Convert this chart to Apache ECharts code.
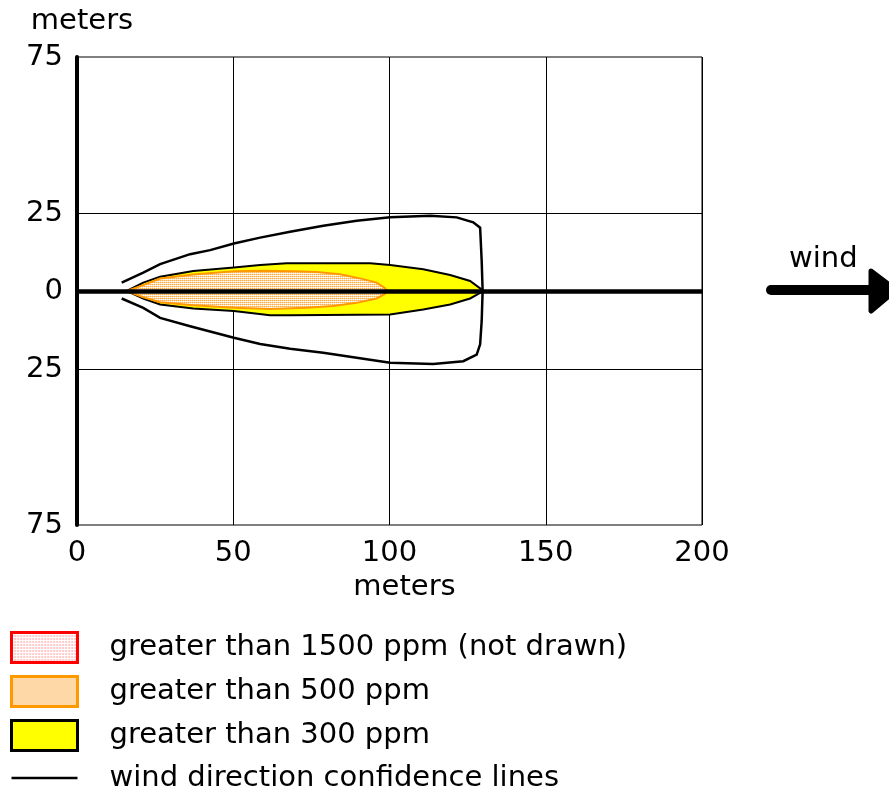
<!DOCTYPE html>
<html><head><meta charset="utf-8">
<script src="https://cdn.jsdelivr.net/npm/echarts@6/dist/echarts.min.js"></script>
<style>html,body{margin:0;padding:0;background:#fff}#c{width:889px;height:793px}</style>
</head><body><div id="c"></div>
<script>
// ---- data ----
const xTickValues = [0, 50, 100, 150, 200];
const yTickValues = [75, 25, 0, -25, -75];
const yGridValues = [25, -25];
const seriesNames = [
  'greater than 1500 ppm (not drawn)',
  'greater than 500 ppm',
  'greater than 300 ppm',
  'wind direction confidence lines'
];
// zone > 1500 ppm: not drawn
const zone1500 = [];
// zone > 500 ppm (x, y in meters)
const zone500 = [[15.9,0],[21.2,1.9],[26.6,4.0],[37.2,5.3],[50.2,6.3],[60,6.5],[70,6.3],[76.7,6.1],[84.2,5.4],[91.6,3.8],[95.9,2.7],[98.6,0.9],[99.1,0],
  [98.6,-0.9],[95.9,-2.4],[89.5,-3.8],[82,-4.8],[73.5,-5.4],[61.8,-5.8],[50.2,-5.4],[37.2,-4.6],[26.6,-3.6],[21.2,-2.0]];
// zone > 300 ppm
const zone300 = [[15.9,0],[21.2,2.7],[26.6,4.6],[37.2,6.4],[50.2,7.5],[58.6,8.3],[67.1,8.9],[93.8,8.9],[100.2,8.3],[110.8,7.0],[119.4,5.1],[125.8,3.2],[130.1,0],
  [125.8,-2.4],[119.4,-4.3],[110.8,-5.9],[100.2,-7.5],[68.2,-7.8],[61.8,-7.8],[50.2,-6.4],[37.2,-5.6],[26.6,-4.3],[21.2,-2.4]];
// wind direction confidence lines
const confidenceLine = [[14.3,2.7],[21.2,5.9],[26.6,8.6],[36.2,11.8],[42.6,13.1],[50.2,15.2],[58.6,17.1],[68.2,19.0],[78.8,20.9],[89.5,22.5],[100.2,23.6],[113,24.1],[121.5,23.6],[126.8,22],[129,20.3],[129.5,9.6],[129.8,0],
  [129.5,-9.6],[129,-17.1],[127.9,-20.4],[123.6,-22.5],[114,-23.4],[100.2,-23.0],[89.5,-21.4],[78.8,-19.8],[68.2,-18.5],[58.6,-17.0],[50.2,-15.0],[36.2,-11.3],[26.6,-8.6],[21.2,-5.4],[14.3,-2.4]];

// ---- fill patterns (style only) ----
function makePattern(w, h, cells, bg) {
  const cv = document.createElement('canvas');
  cv.width = w; cv.height = h;
  const ctx = cv.getContext('2d');
  ctx.fillStyle = bg; ctx.fillRect(0, 0, w, h);
  cells.forEach(c => { ctx.fillStyle = c[2]; ctx.fillRect(c[0], c[1], 1, 1); });
  return {image: cv, repeat: 'repeat'};
}
const orangePattern = makePattern(2, 2, [[0,0,'#ffa940'],[1,0,'#ffd49c'],[0,1,'#ffe6c6']], '#ffffff');
const redPattern = makePattern(3, 3, [[0,0,'#ff5a5a'],[1,0,'#ffd0d0']], '#ffffff');

// ---- chart ----
const FONT = 'DejaVu Sans';
const FS = 29;
const chart = echarts.init(document.getElementById('c'), null, {renderer: 'canvas'});

function shapeSeries(name, pts, kind, style, z) {
  return {
    type: 'custom', name: name, data: pts, z: z,
    encode: {x: 0, y: 1},
    renderItem: function (params, api) {
      if (params.dataIndex !== 0) return null;
      const points = pts.map(p => api.coord(p));
      return {type: kind, shape: {points: points}, style: style};
    }
  };
}

const option = {
  animation: false,
  backgroundColor: '#fff',
  textStyle: {fontFamily: FONT},
  grid: {left: 77, top: 57, width: 625, height: 468, show: true, borderColor: '#000', borderWidth: 1, backgroundColor: 'transparent'},
  xAxis: {
    type: 'value', min: xTickValues[0], max: xTickValues[xTickValues.length - 1], interval: 50,
    name: 'meters', nameLocation: 'middle', nameGap: 48,
    nameTextStyle: {fontSize: FS, color: '#000', fontFamily: FONT, padding: [0, 0, 0, 30]},
    axisLine: {show: false}, axisTick: {show: false},
    axisLabel: {fontSize: FS, color: '#000', margin: 14, fontFamily: FONT},
    splitLine: {show: true, lineStyle: {color: '#000', width: 1}}
  },
  yAxis: {
    type: 'value', min: -75, max: 75, interval: 25,
    name: 'meters', nameLocation: 'end', nameGap: 21,
    nameTextStyle: {fontSize: FS, color: '#000', fontFamily: FONT, align: 'center', padding: [0, 0, 0, 10]},
    axisLine: {show: true, onZero: false, lineStyle: {color: '#000', width: 4}},
    axisTick: {show: false},
    axisLabel: {
      fontSize: FS, color: '#000', margin: 14, fontFamily: FONT,
      formatter: v => yTickValues.indexOf(v) >= 0 ? String(Math.abs(v)) : ''
    },
    splitLine: {show: false}
  },
  legend: {
    orient: 'vertical', left: 5, top: 626, height: 170,
    itemWidth: 66, itemHeight: 30, itemGap: 11,
    selectedMode: false,
    textStyle: {fontSize: FS, color: '#000', fontFamily: FONT, lineHeight: 30, padding: [0, 0, 0, 27]},
    data: [
      {name: seriesNames[0], icon: 'rect', itemStyle: {color: redPattern, borderColor: '#ff0000', borderWidth: 3}},
      {name: seriesNames[1], icon: 'rect', itemStyle: {color: orangePattern, borderColor: '#ff9900', borderWidth: 3}},
      {name: seriesNames[2], icon: 'rect', itemStyle: {color: '#ffff00', borderColor: '#000000', borderWidth: 3}},
      {name: seriesNames[3], icon: 'path://M0,0L66,0L66,2.5L0,2.5Z', itemStyle: {color: '#000', borderWidth: 0}}
    ]
  },
  series: [
    shapeSeries(seriesNames[0], zone1500, 'polygon', {fill: redPattern, stroke: '#ff0000', lineWidth: 2}, 2),
    shapeSeries(seriesNames[2], zone300, 'polygon', {fill: '#ffff00', stroke: '#000', lineWidth: 2}, 2),
    shapeSeries(seriesNames[1], zone500, 'polygon', {fill: orangePattern, stroke: '#ff9900', lineWidth: 2}, 3),
    shapeSeries(seriesNames[3], confidenceLine, 'polyline', {fill: null, stroke: '#000', lineWidth: 2.5}, 3),
    {
      type: 'line', name: 'grid lines', data: [], silent: true,
      markLine: {
        silent: true, symbol: 'none', label: {show: false}, animation: false,
        data: [
          ...yGridValues.map(v => ({yAxis: v, lineStyle: {color: '#000', width: 1, type: 'solid'}})),
          {yAxis: 0, lineStyle: {color: '#000', width: 4.5, type: 'solid'}}
        ]
      }
    }
  ],
  graphic: [
    {type: 'text', left: 789, top: 245, style: {text: 'wind', font: FS + 'px "DejaVu Sans"', fill: '#000'}},
    {type: 'line', shape: {x1: 771, y1: 290, x2: 874, y2: 290}, style: {stroke: '#000', lineWidth: 10, lineCap: 'round'}},
    {type: 'polygon', shape: {points: [[871, 271], [896, 290], [871, 311]]}, style: {fill: '#000', stroke: '#000', lineWidth: 5, lineJoin: 'round'}}
  ]
};
chart.setOption(option);
</script>
</body></html>
